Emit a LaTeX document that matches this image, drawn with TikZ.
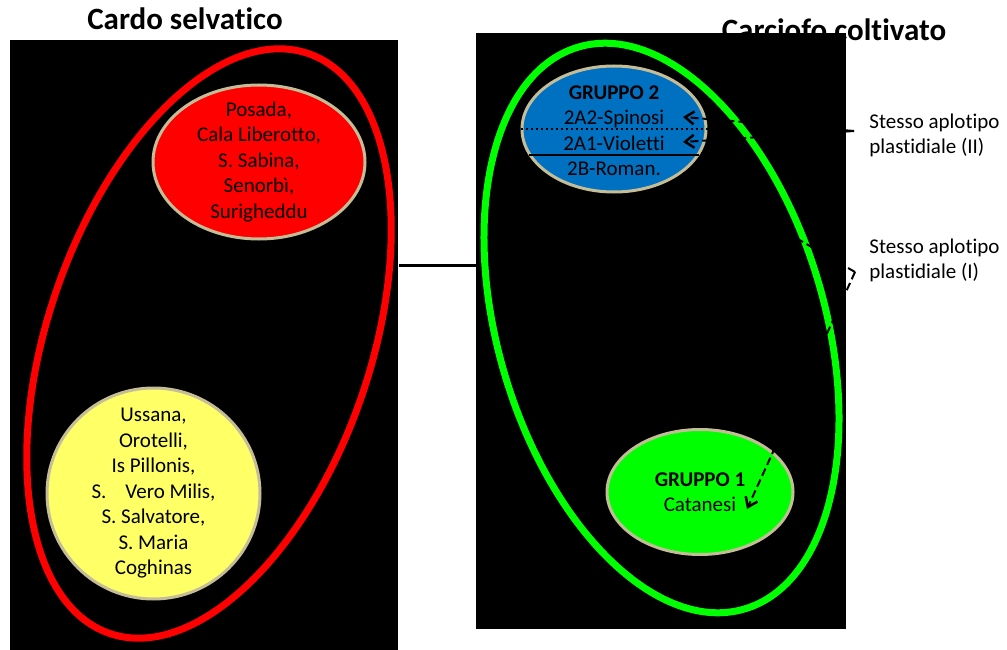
\documentclass[tikz,border=0pt]{standalone}
\usepackage{fontspec}
\setmainfont{Carlito}[Ligatures=NoCommon]
\usetikzlibrary{shapes.geometric,arrows.meta}
\definecolor{tanline}{HTML}{C4BD97}
\definecolor{bluegrp}{HTML}{0070C0}
\definecolor{yellowgrp}{HTML}{FFFF66}
\definecolor{limegrp}{HTML}{00FF00}

\begin{document}
\begin{tikzpicture}[x=1pt, y=-1pt, thick,
  title/.style = {font=\fontsize{31}{36}\selectfont\bfseries, anchor=base, inner sep=0pt},
  txt/.style = {font=\fontsize{21}{25.5}\selectfont, align=center, inner sep=0pt},
  lbl/.style = {font=\fontsize{21}{25}\selectfont, align=left, inner sep=0pt, anchor=west},
  panel/.style = {fill=black, inner sep=0pt, anchor=north west},
  ring/.style = {draw, ellipse, line width=7pt, inner sep=0pt},
  grp/.style = {draw=tanline, ellipse, line width=3pt, inner sep=0pt},
  hint/.style = {line width=2pt, dash pattern=on 8pt off 4pt,
    -{Straight Barb[length=9pt, width=13pt, line width=2.5pt]}}]
\useasboundingbox (0,0) rectangle (1007,650);

\node[title] (wildtitle) at (185,30) {Cardo selvatico};
\node[title] (culttitle) at (834,41) {Carciofo coltivato};

\node[panel, minimum width=388pt, minimum height=610pt] (wildbox) at (10,40) {};
\node[panel, minimum width=370pt, minimum height=596pt] (cultbox) at (476,33) {};

\coordinate (link) at (437,265);
\draw[line width=3pt] (wildbox.east |- link) -- (cultbox.west |- link);

\node[ring, draw=red, minimum width=323pt, minimum height=613pt, rotate=-18.9] (wild) at (209,343.5) {};
\node[ring, draw=limegrp, minimum width=327pt, minimum height=586pt, rotate=16.5] (cult) at (661.5,328) {};

\node[grp, fill=red, minimum width=212pt, minimum height=154pt] (north) at (259,162) {};
\node[txt] (northtxt) at (north) {Posada,\\Cala Liberotto,\\S. Sabina,\\Senorbì,\\Surigheddu};

\node[grp, fill=yellowgrp, minimum width=213pt, minimum height=211pt] (south) at (153.5,493.5) {};
\node[txt] (southtxt) at (south) {Ussana,\\Orotelli,\\Is Pillonis,\\S.\ \ \ \ Vero Milis,\\S. Salvatore,\\S. Maria\\Coghinas};

\node[grp, fill=bluegrp, minimum width=184pt, minimum height=126pt] (g2) at (614,129) {};
\draw[line width=2.5pt, dash pattern=on 2.5pt off 2.5pt] (g2.west) -- (g2.east);
\draw[line width=2.5pt] (g2.197) -- (g2.-17);
\node[txt] (g2txt) at (614,130.5) {\textbf{GRUPPO 2}\\2A2-Spinosi\\2A1-Violetti\\2B-Roman.};

\node[grp, fill=limegrp, minimum width=186pt, minimum height=125pt] (g1) at (700,492) {};
\node[txt] (g1txt) at (g1) {\textbf{GRUPPO 1}\\Catanesi};

\node[lbl] (hap2) at (869,135) {Stesso aplotipo\\plastidiale (II)};
\node[lbl] (hap1) at (869,260) {Stesso aplotipo\\plastidiale (I)};

\coordinate (fork2) at (854,131);
\coordinate (fork1) at (855,272);
\coordinate (spin) at (683,117);
\coordinate (viol) at (683,142);
\coordinate (roman) at (683,173);
\coordinate (cat) at (747,509);
\draw[hint] (fork2) -- (spin);
\draw[hint] (fork2) -- (viol);
\draw[hint, -] (fork1) -- (roman);
\draw[hint] (fork1) -- (cat);
\end{tikzpicture}
\end{document}
